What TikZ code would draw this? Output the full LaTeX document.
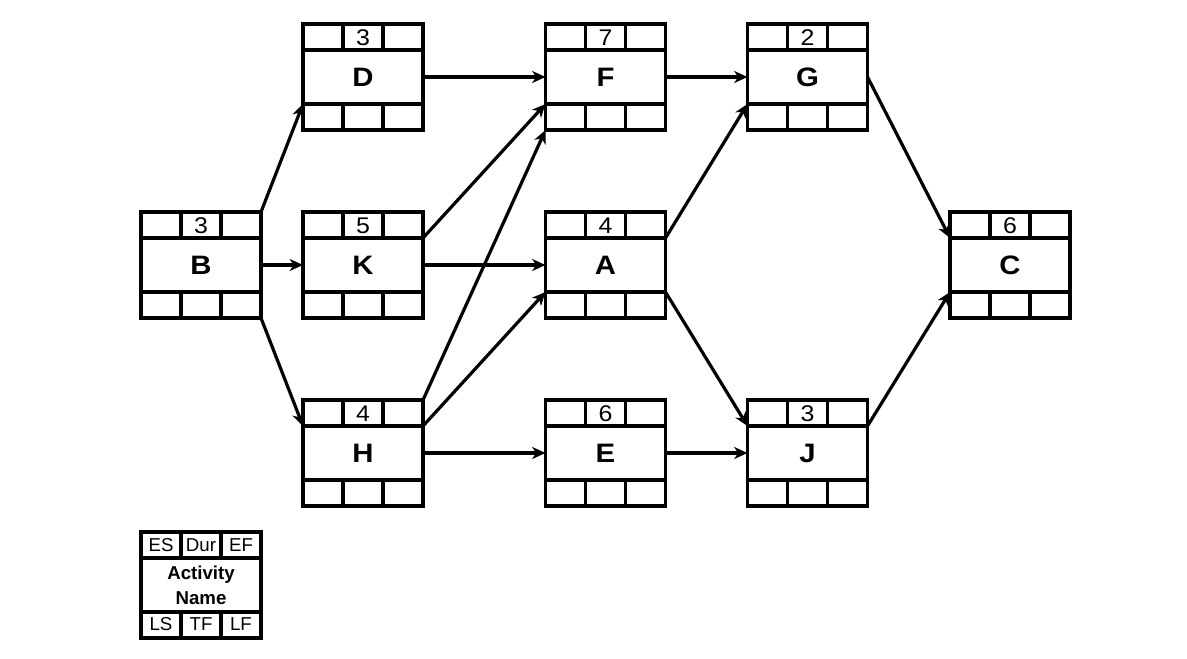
\documentclass[tikz,border=0pt]{standalone}
\usepackage{fontspec}
\setmainfont{Liberation Sans}
\newfontfamily\widefont[FakeStretch=1.1]{Liberation Sans}
\usetikzlibrary{calc,arrows.meta}
\tikzset{
  box/.style={draw, line width=2.6pt, rectangle, inner sep=0pt, outer sep=0pt,
              minimum width=90pt, minimum height=79.5pt},
  divider/.style={line width=2.6pt},
  dur/.style={font=\widefont\fontsize{17}{20}\selectfont, inner sep=0pt},
  lbl/.style={font=\widefont\bfseries\fontsize{20}{24}\selectfont, inner sep=0pt},
  leg/.style={font=\fontsize{14}{16}\selectfont, inner sep=0pt},
  legname/.style={font=\bfseries\fontsize{14}{19}\selectfont, inner sep=0pt, align=center},
  conn/.style={line width=2.4pt, -{Stealth[length=10pt,width=9pt,inset=3pt]}},
}
\newcommand\myActFrame[3]{%
  \node[box] (#1) at (#2,#3) {};
  \coordinate (#1-l1) at ($(#1.north west)+(0,26)$);
  \coordinate (#1-r1) at ($(#1.north east)+(0,26)$);
  \coordinate (#1-l2) at ($(#1.south west)+(0,-26)$);
  \coordinate (#1-r2) at ($(#1.south east)+(0,-26)$);
  \draw[divider] (#1-l1) -- (#1-r1);
  \draw[divider] (#1-l2) -- (#1-r2);
  \draw[divider] ($(#1.north west)+(40,0)$) -- ($(#1-l1)+(40,0)$);
  \draw[divider] ($(#1.north west)+(80,0)$) -- ($(#1-l1)+(80,0)$);
  \draw[divider] ($(#1.south west)+(40,0)$) -- ($(#1-l2)+(40,0)$);
  \draw[divider] ($(#1.south west)+(80,0)$) -- ($(#1-l2)+(80,0)$);
}
\newcommand\myActBox[5]{%
  \myActFrame{#1}{#2}{#3}%
  \node[dur] (#1-d) at ($(#1.north)+(0,13.5)$) {#4};
  \node[lbl] (#1-n) at (#1) {#5};
}
\begin{document}
\begin{tikzpicture}[x=0.75pt,y=-0.75pt]
\fill[white] (0,0) rectangle (1187,659);
\useasboundingbox (0,0) rectangle (1187,659);

\myActBox{B}{201}{265}{3}{B}
\myActBox{D}{363}{77}{3}{D}
\myActBox{K}{363}{265}{5}{K}
\myActBox{H}{363}{453}{4}{H}
\myActBox{F}{605.5}{77}{7}{F}
\myActBox{A}{605.5}{265}{4}{A}
\myActBox{E}{605.5}{453}{6}{E}
\myActBox{G}{807.5}{77}{2}{G}
\myActBox{J}{807.5}{453}{3}{J}
\myActBox{C}{1010}{265}{6}{C}

% legend
\myActFrame{L}{201}{585}
\node[leg] (L-es)  at ($(L.north)+(-40,13.5)$) {ES};
\node[leg] (L-dur) at ($(L.north)+(0,13.5)$) {Dur};
\node[leg] (L-ef)  at ($(L.north)+(40,13.5)$) {EF};
\node[leg] (L-ls)  at ($(L.south)+(-40,-13.5)$) {LS};
\node[leg] (L-tf)  at ($(L.south)+(0,-13.5)$) {TF};
\node[leg] (L-lf)  at ($(L.south)+(40,-13.5)$) {LF};
\node[legname] (L-n) at (L) {Activity\\Name};

% connectors
\draw[conn] (B.north east) -- (D-l2);
\draw[conn] (B.east) -- (K.west);
\draw[conn] (B.south east) -- (H-l1);
\draw[conn] (D.east) -- (F.west);
\draw[conn] (K-r1) -- (F-l2);
\draw[conn] (K.east) -- (A.west);
\draw[conn] (H.north east) -- (F.south west);
\draw[conn] (H-r1) -- (A-l2);
\draw[conn] (H.east) -- (E.west);
\draw[conn] (F.east) -- (G.west);
\draw[conn] (A-r1) -- (G-l2);
\draw[conn] (A-r2) -- (J-l1);
\draw[conn] (E.east) -- (J.west);
\draw[conn] (G.east) -- (C-l1);
\draw[conn] (J-r1) -- (C-l2);
\end{tikzpicture}
\end{document}
